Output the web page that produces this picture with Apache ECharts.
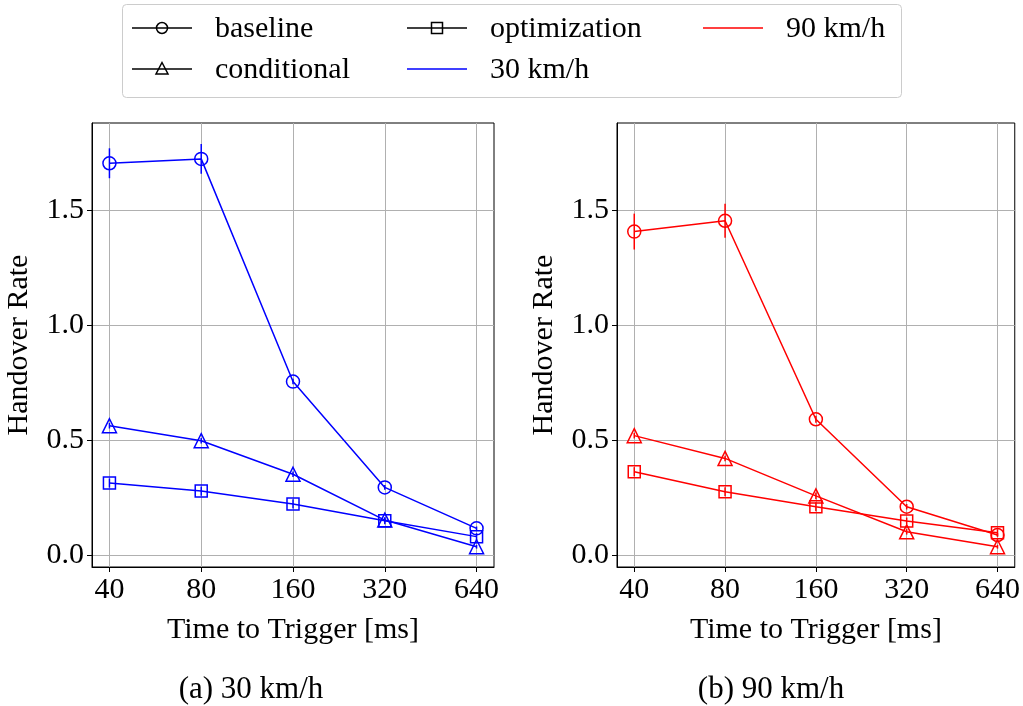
<!DOCTYPE html>
<html>
<head>
<meta charset="utf-8">
<script src="https://cdn.jsdelivr.net/npm/echarts@6/dist/echarts.min.js"></script>
<style>
html,body{margin:0;padding:0;background:#fff;}
#chart{width:1023px;height:706px;}
</style>
</head>
<body>
<div id="chart"></div>
<script>
// ---- data ----
const xTicks = ['40', '80', '160', '320', '640'];
const yTicks = [0, 0.5, 1.0, 1.5];
const base30 = [1.703, 1.722, 0.754, 0.294, 0.116];
const base30Err = [0.065, 0.065, 0.012, 0.010, 0.008];
const cond30 = [0.562, 0.497, 0.351, 0.152, 0.036];
const cond30Err = [0.012, 0.012, 0.012, 0.010, 0.008];
const opt30 = [0.313, 0.278, 0.222, 0.149, 0.080];
const opt30Err = [0.020, 0.020, 0.020, 0.015, 0.015];
const base90 = [1.406, 1.453, 0.590, 0.210, 0.087];
const base90Err = [0.078, 0.074, 0.015, 0.012, 0.008];
const cond90 = [0.519, 0.420, 0.257, 0.101, 0.036];
const cond90Err = [0.012, 0.012, 0.015, 0.012, 0.008];
const opt90 = [0.362, 0.275, 0.210, 0.148, 0.097];
const opt90Err = [0.020, 0.020, 0.020, 0.015, 0.015];
const captions = ['(a) 30 km/h', '(b) 90 km/h'];
const legendNames = ['baseline', 'conditional', 'optimization', '30 km/h', '90 km/h'];

const FONT = 'Liberation Serif';
const FS = 30;
const BLUE = '#0000ff', RED = '#ff0000';

const chart = echarts.init(document.getElementById('chart'), null, {renderer: 'canvas'});

function xAxis(g) {
  return {
    type: 'value', gridIndex: g, min: -0.19, max: 4.19,
    name: 'Time to Trigger [ms]', nameLocation: 'middle', nameGap: 48,
    nameTextStyle: {fontFamily: FONT, fontSize: FS, color: '#000'},
    axisLine: {show: true, onZero: false, lineStyle: {color: '#000', width: 1}},
    axisTick: {show: true, customValues: [0, 1, 2, 3, 4], length: 5, lineStyle: {color: '#000'}},
    axisLabel: {customValues: [0, 1, 2, 3, 4], formatter: v => xTicks[Math.round(v)],
      fontFamily: FONT, fontSize: FS, color: '#000', margin: 8},
    splitLine: {show: true, lineStyle: {color: '#b0b0b0', width: 1}}
  };
}
function yAxis(g) {
  return {
    type: 'value', gridIndex: g, min: -0.052, max: 1.878,
    name: 'Handover Rate', nameLocation: 'middle', nameGap: 58,
    nameTextStyle: {fontFamily: FONT, fontSize: FS, color: '#000'},
    axisLine: {show: true, onZero: false, lineStyle: {color: '#000', width: 1}},
    axisTick: {show: true, customValues: yTicks, length: 5, lineStyle: {color: '#000'}},
    axisLabel: {customValues: yTicks, formatter: v => v.toFixed(1),
      fontFamily: FONT, fontSize: FS, color: '#000', margin: 8},
    splitLine: {show: true, lineStyle: {color: '#b0b0b0', width: 1}}
  };
}

function lineSeries(name, vals, color, symbol, size, g) {
  return {
    type: 'line', name: name, xAxisIndex: g, yAxisIndex: g,
    data: vals.map((v, i) => [i, v]),
    symbol: symbol, symbolSize: size, showSymbol: true,
    lineStyle: {color: color, width: 1.5},
    itemStyle: {color: 'rgba(0,0,0,0)', borderColor: color, borderWidth: 1.5},
    z: 3, animation: false
  };
}
function errSeries(vals, errs, color, g) {
  return {
    type: 'custom', xAxisIndex: g, yAxisIndex: g,
    data: vals.map((v, i) => [i, v - errs[i], v + errs[i]]),
    encode: {x: 0, y: [1, 2]},
    renderItem: function (params, api) {
      const lo = api.coord([api.value(0), api.value(1)]);
      const hi = api.coord([api.value(0), api.value(2)]);
      return {type: 'line', shape: {x1: lo[0], y1: lo[1], x2: hi[0], y2: hi[1]},
        style: {stroke: color, lineWidth: 1.5}};
    },
    z: 4, animation: false, silent: true
  };
}

// legend graphics
const legendG = [];
legendG.push({type: 'rect', shape: {x: 122.5, y: 4.5, width: 779, height: 93, r: 4},
  style: {fill: '#fff', stroke: '#cccccc', lineWidth: 1}, z: 10});
const legendItems = [
  {name: legendNames[0], x: 132, y: 28, color: '#000', sym: 'circle'},
  {name: legendNames[1], x: 132, y: 69, color: '#000', sym: 'triangle'},
  {name: legendNames[2], x: 407, y: 28, color: '#000', sym: 'square'},
  {name: legendNames[3], x: 407, y: 69, color: BLUE, sym: null},
  {name: legendNames[4], x: 703, y: 28, color: RED, sym: null}
];
legendItems.forEach(it => {
  legendG.push({type: 'line', shape: {x1: it.x, y1: it.y, x2: it.x + 60, y2: it.y},
    style: {stroke: it.color, lineWidth: 1.5}, z: 11});
  const cx = it.x + 30, cy = it.y;
  if (it.sym === 'circle') {
    legendG.push({type: 'circle', shape: {cx: cx, cy: cy, r: 5.5},
      style: {fill: 'none', stroke: '#000', lineWidth: 1.5}, z: 12});
  } else if (it.sym === 'triangle') {
    legendG.push({type: 'polygon', shape: {points: [[cx, cy - 6.5], [cx - 6, cy + 5], [cx + 6, cy + 5]]},
      style: {fill: 'none', stroke: '#000', lineWidth: 1.5}, z: 12});
  } else if (it.sym === 'square') {
    legendG.push({type: 'rect', shape: {x: cx - 5.5, y: cy - 5.5, width: 11, height: 11},
      style: {fill: 'none', stroke: '#000', lineWidth: 1.5}, z: 12});
  }
  legendG.push({type: 'text', x: it.x + 83, y: it.y + 1,
    style: {text: it.name, fontFamily: FONT, fontSize: FS, fill: '#000', verticalAlign: 'middle', align: 'left'}, z: 12});
});
legendG.push({type: 'text', x: 251, y: 690,
  style: {text: captions[0], fontFamily: FONT, fontSize: 31, fill: '#000', align: 'center', verticalAlign: 'middle'}});
legendG.push({type: 'text', x: 771, y: 690,
  style: {text: captions[1], fontFamily: FONT, fontSize: 31, fill: '#000', align: 'center', verticalAlign: 'middle'}});

const option = {
  backgroundColor: '#fff',
  animation: false,
  grid: [
    {left: 92, top: 123, width: 402, height: 444, show: true, borderColor: '#000', borderWidth: 1, backgroundColor: 'transparent'},
    {left: 617, top: 123, width: 401, height: 444, show: true, borderColor: '#000', borderWidth: 1, backgroundColor: 'transparent'}
  ],
  xAxis: [xAxis(0), xAxis(1)],
  yAxis: [yAxis(0), yAxis(1)],
  series: [
    lineSeries('baseline', base30, BLUE, 'circle', 13, 0),
    lineSeries('conditional', cond30, BLUE, 'triangle', 14, 0),
    lineSeries('optimization', opt30, BLUE, 'rect', 12, 0),
    errSeries(base30, base30Err, BLUE, 0),
    errSeries(cond30, cond30Err, BLUE, 0),
    errSeries(opt30, opt30Err, BLUE, 0),
    lineSeries('baseline', base90, RED, 'circle', 13, 1),
    lineSeries('conditional', cond90, RED, 'triangle', 14, 1),
    lineSeries('optimization', opt90, RED, 'rect', 12, 1),
    errSeries(base90, base90Err, RED, 1),
    errSeries(cond90, cond90Err, RED, 1),
    errSeries(opt90, opt90Err, RED, 1)
  ],
  graphic: legendG
};
chart.setOption(option);
</script>
</body>
</html>
